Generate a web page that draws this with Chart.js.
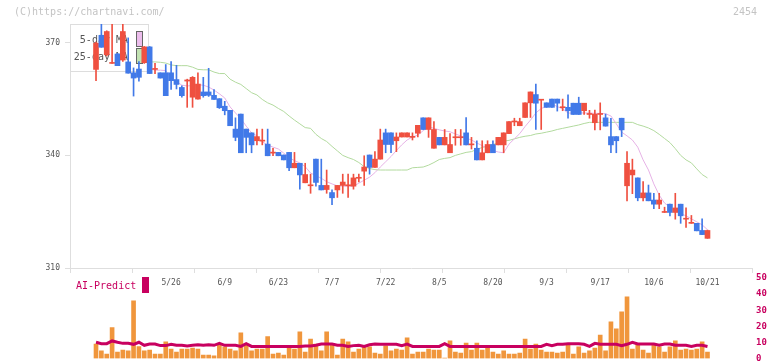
<!DOCTYPE html>
<html>
<head>
<meta charset="utf-8">
<script src="https://cdn.jsdelivr.net/npm/chart.js@4"></script>
<style>
  html, body { margin: 0; padding: 0; background: #fff; overflow: hidden; }
  #wrap { position: relative; width: 772px; height: 361px; }
  canvas { position: absolute; left: 0; top: 0; }
  .note { position: absolute; top: 6px; font: 10px 'DejaVu Sans Mono', monospace; line-height: 12px; color: #c4c4c4; }
</style>
</head>
<body>
<div id="wrap">
  <canvas id="priceChart" width="772" height="361"></canvas>
  <canvas id="volChart" width="772" height="380"></canvas>
  <div class="note" style="left:14px">(C)https://chartnavi.com/</div>
  <div class="note" style="left:733px">2454</div>
</div>
<script>
// date labels shown under the price panel, and which candle they belong to
const tickLabels = ['5/26', '6/9', '6/23', '7/7', '7/22', '8/5', '8/20', '9/3', '9/17', '10/6', '10/21'];
const tickIndex = [14, 24, 34, 44, 54, 64, 74, 84, 94, 104, 114];
const priceTicks = [310, 340, 370];
const volTicks = [0, 10, 20, 30, 40, 50];

const opens = [
  362.9, 372.0, 366.8, 364.5, 367.0, 365.4, 364.9, 362.0, 363.0, 364.7,
  368.9, 362.9, 362.0, 362.0, 362.0, 360.2, 358.1, 359.8, 355.5, 355.0,
  356.9, 356.9, 356.0, 355.1, 353.1, 352.0, 347.0, 351.0, 347.0, 346.0,
  343.9, 343.8, 343.0, 340.6, 340.8, 340.1, 340.8, 336.7, 337.9, 332.7,
  331.9, 339.0, 332.0, 330.9, 330.1, 330.8, 332.0, 331.9, 331.8, 333.9,
  335.8, 340.1, 336.8, 339.0, 346.0, 346.0, 343.9, 344.9, 344.9, 344.8,
  345.9, 350.0, 346.9, 341.9, 344.8, 342.8, 340.7, 344.7, 344.7, 346.0,
  342.8, 341.9, 338.8, 340.7, 342.9, 342.8, 342.8, 345.8, 348.9, 347.9,
  350.1, 354.0, 356.2, 354.7, 354.0, 355.0, 355.0, 352.7, 352.8, 353.9,
  353.9, 351.9, 350.9, 348.7, 350.9, 350.0, 345.0, 345.0, 349.9, 331.9,
  334.8, 334.0, 328.7, 330.0, 328.1, 327.0, 324.8, 327.0, 324.8, 327.0,
  323.0, 321.9, 321.9, 320.0, 317.9
];
const highs = [
  370.2, 376.5, 373.2, 376.5, 367.2, 376.5, 371.3, 363.3, 365.0, 369.0,
  369.0, 364.5, 362.0, 364.2, 365.0, 364.0, 358.5, 360.3, 361.0, 362.0,
  360.8, 363.2, 357.5, 355.1, 354.4, 352.0, 350.0, 351.0, 347.0, 346.0,
  347.0, 347.0, 347.0, 341.9, 340.8, 340.1, 340.8, 340.8, 337.9, 337.9,
  335.0, 339.0, 339.0, 336.1, 330.8, 332.0, 335.0, 335.0, 335.0, 335.0,
  339.9, 340.1, 341.0, 347.0, 347.0, 346.0, 346.0, 346.0, 346.0, 346.0,
  348.0, 350.0, 350.0, 349.0, 344.8, 346.9, 345.8, 346.9, 346.9, 350.1,
  344.8, 343.9, 343.9, 343.9, 343.9, 344.8, 346.0, 349.0, 349.9, 349.9,
  354.0, 356.9, 359.0, 354.8, 354.0, 355.0, 355.0, 355.0, 356.1, 353.9,
  355.5, 353.9, 352.0, 352.1, 354.0, 351.0, 349.9, 345.0, 349.9, 341.0,
  339.0, 334.0, 333.0, 332.1, 329.9, 329.9, 326.2, 327.0, 329.9, 327.0,
  326.0, 324.0, 321.9, 323.1, 320.1
];
const lows = [
  359.9, 368.8, 366.5, 364.5, 363.9, 365.0, 361.9, 355.8, 359.8, 364.5,
  361.8, 361.8, 360.6, 355.9, 357.6, 357.7, 355.5, 352.8, 352.8, 355.0,
  355.5, 355.7, 354.9, 352.5, 350.8, 347.9, 343.9, 340.7, 340.7, 340.7,
  342.8, 342.8, 339.9, 339.9, 339.9, 338.8, 335.9, 336.7, 331.0, 332.7,
  329.9, 331.8, 330.8, 329.9, 326.9, 328.8, 329.9, 328.8, 331.0, 332.9,
  332.0, 335.0, 336.8, 339.0, 340.7, 340.7, 341.0, 344.9, 344.9, 344.1,
  344.9, 346.9, 344.8, 341.9, 342.8, 342.8, 340.7, 342.7, 342.7, 342.8,
  341.7, 338.8, 338.8, 340.7, 340.7, 342.8, 340.7, 345.8, 347.9, 347.9,
  350.1, 350.1, 346.9, 346.9, 352.8, 352.8, 351.8, 351.9, 349.9, 350.9,
  350.9, 350.9, 349.9, 346.8, 346.8, 347.8, 340.7, 340.7, 345.0, 327.9,
  329.8, 327.9, 327.9, 327.9, 325.8, 325.8, 324.8, 323.9, 323.0, 321.9,
  320.8, 321.9, 319.9, 318.9, 317.9
];
const closes = [
  369.9, 368.8, 373.0, 364.7, 363.9, 373.0, 361.9, 360.6, 360.8, 368.9,
  361.8, 363.1, 360.6, 355.9, 359.9, 358.9, 355.9, 360.1, 360.8, 359.0,
  355.9, 356.0, 354.9, 352.7, 351.9, 347.9, 344.8, 340.7, 344.8, 342.8,
  345.0, 344.0, 339.9, 340.8, 339.9, 338.8, 336.7, 337.9, 334.8, 334.9,
  332.0, 332.8, 330.8, 332.0, 328.7, 332.0, 332.9, 332.1, 334.0, 334.0,
  336.9, 336.8, 339.0, 344.1, 342.9, 342.9, 344.9, 346.0, 346.0, 344.9,
  348.0, 346.9, 350.0, 346.9, 342.8, 344.8, 342.9, 344.8, 344.8, 342.8,
  342.9, 338.8, 340.7, 342.9, 340.7, 344.8, 346.0, 349.0, 349.0, 349.0,
  354.0, 356.9, 353.9, 354.8, 352.8, 352.8, 353.9, 352.8, 351.9, 350.9,
  350.9, 353.9, 351.0, 351.0, 351.0, 347.8, 342.8, 343.9, 346.8, 337.9,
  336.1, 328.7, 330.0, 327.9, 327.0, 328.1, 324.9, 324.8, 326.0, 323.9,
  323.1, 322.0, 319.9, 318.9, 320.0
];
const ma5 = [
  null, null, null, null, null, null, null, null, null, null,
  363.1, 362.7, 362.7, 362.6, 360.6, 359.7, 358.7, 358.5, 358.6, 358.8,
  358.7, 358.2, 357.4, 356.4, 355.3, 352.9, 351.3, 349.8, 347.8, 346.0,
  345.2, 343.6, 342.8, 342.2, 341.7, 340.6, 339.4, 338.6, 338.0, 337.0,
  335.3, 334.6, 333.9, 333.0, 332.4, 331.9, 331.8, 331.8, 331.8, 332.6,
  333.4, 334.2, 335.4, 336.9, 338.3, 339.7, 341.3, 342.8, 344.1, 344.9,
  345.4, 346.6, 347.6, 347.2, 346.8, 346.5, 346.3, 345.7, 345.2, 344.6,
  344.1, 343.3, 342.6, 341.8, 341.3, 340.9, 340.7, 343.0, 344.4, 345.8,
  347.7, 349.4, 351.3, 352.5, 353.0, 353.7, 353.0, 352.4, 351.3, 351.2,
  351.3, 351.3, 351.3, 351.2, 351.2, 351.1, 350.5, 348.4, 346.2, 345.2,
  344.1, 342.2, 338.8, 336.1, 332.4, 329.4, 327.3, 326.2, 325.2, 324.5,
  323.9, 323.1, 322.3, 321.5, 320.2
];
const ma25 = [
  null, null, null, null, null, null, null, null, null, null,
  364.9, 364.9, 364.8, 364.6, 364.1, 363.9, 363.9, 363.9, 363.5, 362.9,
  362.8, 362.8, 362.2, 361.8, 361.8, 360.3, 359.5, 358.9, 357.8, 356.7,
  356.1, 354.9, 354.0, 353.4, 352.5, 351.7, 350.5, 349.4, 348.4, 347.4,
  347.2, 345.6, 344.5, 343.7, 342.4, 341.2, 340.0, 339.4, 338.9, 338.1,
  337.0, 336.5, 336.2, 336.1, 336.1, 336.1, 336.1, 336.1, 336.1, 336.7,
  336.8, 336.9, 337.4, 338.1, 338.9, 339.2, 339.4, 340.0, 340.4, 340.8,
  341.0, 341.6, 342.1, 342.5, 342.9, 343.3, 343.8, 344.0, 344.4, 344.8,
  345.1, 345.3, 345.7, 345.9, 346.2, 346.5, 346.9, 347.2, 347.5, 347.8,
  348.1, 348.5, 348.8, 348.8, 348.8, 348.8, 348.8, 348.8, 348.8, 348.8,
  348.8, 348.2, 347.8, 347.3, 346.6, 345.6, 344.5, 343.4, 341.8, 340.0,
  338.8, 338.0, 336.4, 334.9, 334.0
];
const volume = [
  9.0, 4.7, 2.8, 19.2, 4.0, 5.3, 4.7, 35.8, 7.4, 4.7,
  5.3, 2.8, 2.8, 10.3, 5.9, 4.0, 5.9, 5.9, 6.5, 5.9,
  2.2, 2.2, 1.6, 8.4, 7.2, 5.9, 4.7, 15.9, 8.4, 4.7,
  5.9, 5.9, 13.6, 2.8, 3.4, 2.2, 7.2, 5.9, 16.5, 4.0,
  12.1, 9.0, 4.7, 16.5, 8.4, 2.2, 12.1, 10.3, 4.0, 5.9,
  7.8, 7.2, 3.4, 2.8, 7.8, 4.7, 5.9, 5.3, 12.8, 2.8,
  4.0, 4.0, 5.9, 5.3, 5.3, 0.3, 10.9, 4.0, 3.4, 9.6,
  5.3, 9.6, 5.3, 7.2, 4.0, 2.8, 4.7, 2.8, 2.8, 3.4,
  12.1, 5.9, 9.0, 5.3, 4.0, 4.0, 3.4, 4.0, 8.4, 2.8,
  7.2, 3.4, 4.7, 6.5, 14.6, 4.7, 22.7, 18.4, 29.0, 38.3,
  5.9, 9.0, 5.3, 3.4, 8.4, 7.2, 4.0, 7.2, 10.9, 5.3,
  5.9, 5.3, 5.9, 10.3, 4.0
];
const aiPredict = [
  10.1, 9.2, 9.2, 10.9, 10.1, 9.4, 9.4, 8.8, 10.1, 8.2,
  9.0, 9.0, 8.0, 8.0, 8.8, 8.2, 8.2, 7.8, 8.2, 8.5,
  8.2, 8.5, 8.2, 9.4, 8.2, 8.2, 8.2, 7.5, 9.2, 7.5,
  7.5, 7.5, 7.5, 7.5, 7.5, 7.5, 7.5, 7.5, 7.5, 7.8,
  7.8, 8.2, 9.0, 9.0, 9.0, 8.2, 8.2, 7.5, 8.0, 8.2,
  7.5, 8.5, 9.0, 8.8, 8.8, 8.8, 8.8, 8.0, 9.0, 7.5,
  7.5, 7.5, 7.5, 7.5, 7.5, 9.2, 7.5, 7.5, 7.5, 7.5,
  7.5, 7.5, 7.5, 7.5, 7.5, 7.5, 7.5, 7.5, 7.5, 7.5,
  7.5, 7.5, 7.5, 7.5, 8.8, 8.0, 8.8, 8.8, 9.2, 9.2,
  9.2, 8.8, 7.5, 9.4, 8.8, 8.8, 8.8, 8.8, 8.0, 8.8,
  10.1, 9.0, 9.0, 9.0, 9.0, 8.2, 9.0, 9.0, 8.2, 8.2,
  8.2, 7.5, 8.2, 8.2, 7.5
];

const UP = '#ef5040';
const DOWN = '#4179e8';
const xMin = -4.85, xMax = 122.3;
const monoFont = 'DejaVu Sans Mono';

const candleColors = closes.map((c, i) => c >= opens[i] ? UP : DOWN);
const points = (arr) => arr.map((v, i) => ({ x: i, y: v })).filter(p => p.y !== null);

// MA legend sits behind the candles, in the top-left corner of the plot
const maLegend = {
  id: 'maLegend',
  beforeDatasetsDraw(chart) {
    const ctx = chart.ctx, a = chart.chartArea;
    ctx.save();
    ctx.fillStyle = '#fff';
    ctx.fillRect(a.left, a.top, 78, 47);
    ctx.strokeStyle = '#ddd';
    ctx.lineWidth = 1;
    ctx.strokeRect(a.left + 0.5, a.top + 0.5, 78, 47);
    ctx.font = '10px "' + monoFont + '"';
    ctx.fillStyle = '#555';
    ctx.textAlign = 'right';
    ctx.textBaseline = 'middle';
    ctx.fillText('5-day MA', a.left + 58, a.top + 16);
    ctx.fillText('25-day MA', a.left + 58, a.top + 33.5);
    ctx.strokeStyle = '#666';
    ctx.fillStyle = '#ecbdec';
    ctx.fillRect(a.left + 66.5, a.top + 7.5, 6, 15);
    ctx.strokeRect(a.left + 66.5, a.top + 7.5, 6, 15);
    ctx.fillStyle = '#c2e2b2';
    ctx.fillRect(a.left + 66.5, a.top + 24.5, 6, 15);
    ctx.strokeRect(a.left + 66.5, a.top + 24.5, 6, 15);
    ctx.restore();
  }
};

new Chart(document.getElementById('priceChart'), {
  type: 'bar',
  data: {
    datasets: [
      {
        type: 'bar',
        data: opens.map((o, i) => ({ x: i, y: [o, closes[i]] })),
        backgroundColor: candleColors,
        barThickness: 5,
        minBarLength: 1,
        grouped: false,
        order: 0
      },
      {
        type: 'bar',
        data: lows.map((l, i) => ({ x: i, y: [l, highs[i]] })),
        backgroundColor: candleColors,
        barThickness: 1,
        grouped: false,
        order: 1
      },
      {
        type: 'line',
        data: points(ma5),
        borderColor: '#e6b2e6',
        borderWidth: 1,
        pointRadius: 0,
        order: 2
      },
      {
        type: 'line',
        data: points(ma25),
        borderColor: '#b2da9e',
        borderWidth: 1,
        pointRadius: 0,
        order: 3
      }
    ]
  },
  options: {
    responsive: false,
    animation: false,
    devicePixelRatio: 1,
    events: [],
    layout: { padding: { top: 24, right: 20, bottom: 0, left: 0 } },
    plugins: { legend: { display: false }, tooltip: { enabled: false } },
    scales: {
      x: {
        type: 'linear',
        min: xMin,
        max: xMax,
        offset: false,
        afterBuildTicks(s) {
          const marks = [];
          for (let k = 0; k <= 11; k++) marks.push({ value: s.min + k * (s.max - s.min) / 11 });
          s.ticks = marks.concat(tickIndex.map(v => ({ value: v })));
        },
        afterFit(s) { s.height = 93; },
        grid: {
          offset: false,
          drawOnChartArea: false,
          tickLength: 5,
          tickColor: (c) => (c.tick && tickIndex.includes(c.tick.value)) ? 'rgba(0,0,0,0)' : '#dedede'
        },
        border: { color: '#dedede' },
        ticks: {
          autoSkip: false,
          maxRotation: 0,
          padding: 5,
          color: '#555',
          font: { family: monoFont, size: 8 },
          callback: (v) => {
            const k = tickIndex.indexOf(v);
            return k < 0 ? '' : tickLabels[k];
          }
        }
      },
      y: {
        min: 310,
        max: 375,
        afterBuildTicks(s) { s.ticks = priceTicks.map(v => ({ value: v })); },
        afterFit(s) { s.width = 70; },
        grid: { drawOnChartArea: false, tickLength: 5, tickColor: '#dedede' },
        border: { color: '#dedede' },
        ticks: { padding: 5, color: '#555', font: { family: monoFont, size: 8 } }
      }
    }
  },
  plugins: [maLegend]
});

// AI-Predict label and its colour block
const aiLabel = {
  id: 'aiLabel',
  afterDraw(chart) {
    const ctx = chart.ctx;
    ctx.save();
    ctx.font = '10px "' + monoFont + '"';
    ctx.fillStyle = '#c8005f';
    ctx.textBaseline = 'middle';
    ctx.fillText('AI-Predict', 76, 286);
    ctx.fillRect(142, 277, 7, 16);
    ctx.restore();
  }
};

new Chart(document.getElementById('volChart'), {
  type: 'bar',
  data: {
    datasets: [
      {
        type: 'line',
        data: points(aiPredict),
        borderColor: '#c8005f',
        borderWidth: 3,
        pointRadius: 0,
        order: 0
      },
      {
        type: 'bar',
        data: points(volume),
        backgroundColor: '#f0963c',
        barThickness: 4,
        order: 1
      }
    ]
  },
  options: {
    responsive: false,
    animation: false,
    devicePixelRatio: 1,
    events: [],
    layout: { padding: { top: 278, right: 0, bottom: 21.5, left: 70 } },
    plugins: { legend: { display: false }, tooltip: { enabled: false } },
    scales: {
      x: { type: 'linear', min: xMin, max: xMax, offset: false, display: false, grid: { offset: false } },
      y: {
        position: 'right',
        min: 0,
        max: 50,
        afterBuildTicks(s) { s.ticks = volTicks.map(v => ({ value: v })); },
        afterFit(s) { s.width = 20; },
        grid: { display: false, drawTicks: false },
        border: { display: false },
        ticks: { padding: 4, color: '#c8005f', font: { family: monoFont, size: 9, weight: 'bold' } }
      }
    }
  },
  plugins: [aiLabel]
});
</script>
</body>
</html>
